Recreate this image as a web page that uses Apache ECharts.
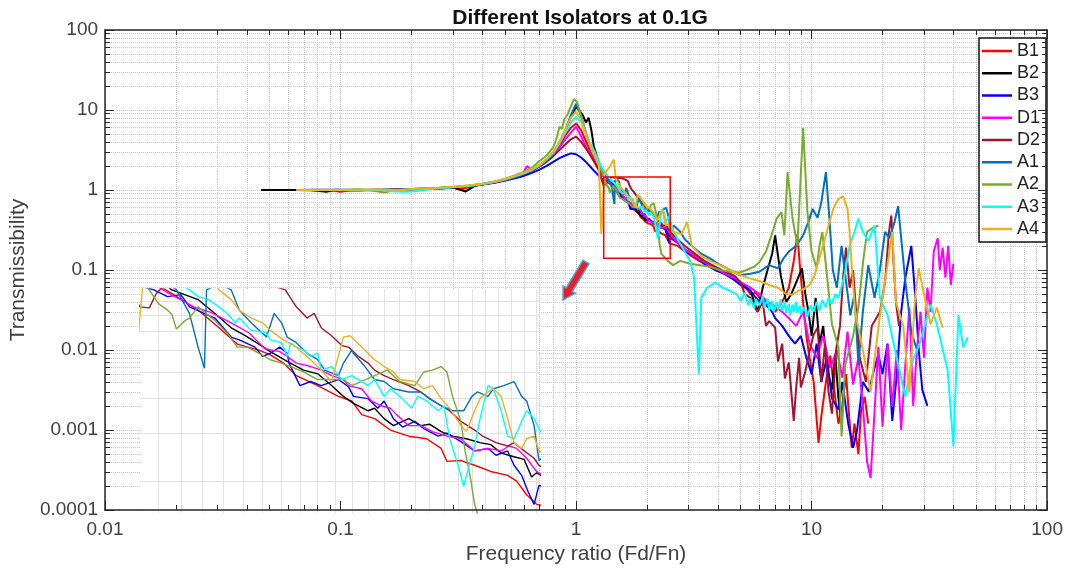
<!DOCTYPE html>
<html>
<head>
<meta charset="utf-8">
<script src="https://cdn.jsdelivr.net/npm/echarts@6/dist/echarts.min.js"></script>
<style>
html, body { margin: 0; padding: 0; background: #fff; }
#main { width: 1066px; height: 570px; }
</style>
</head>
<body>
<div id="main"></div>
<script>
// isolator names and line colours (legend order)
var names = ['B1', 'B2', 'B3', 'D1', 'D2', 'A1', 'A2', 'A3', 'A4'];
var colors = ['#ff0000', '#000000', '#0000ff', '#ff00ff', '#a2142f', '#0072bd', '#77ac30', '#00ffff', '#edb120'];

// [frequency ratio, transmissibility]
var b1 = [[0.065,1.0],[0.075,0.99],[0.09,1.0],[0.1,0.95],[0.11,0.99],[0.13,1.0],[0.16,1.01],[0.2,1.02],[0.25,1.04],[0.3,1.07],[0.33,1.03],[0.36,1.11],[0.4,1.17],[0.45,1.24],[0.5,1.32],[0.55,1.43],[0.6,1.56],[0.65,1.74],[0.7,1.97],[0.75,2.3],[0.8,2.8],[0.85,3.6],[0.9,4.8],[0.95,6.0],[1.0,6.8],[1.05,5.6],[1.1,4.1],[1.15,3.0],[1.2,2.3],[1.25,1.8],[1.3,1.5],
  [1.38,1.25],[1.44,1.09],[1.49,0.94],[1.535,0.82],[1.59,0.78],[1.62,0.75],[1.655,0.70],[1.69,0.63],[1.75,0.58],[1.81,0.53],[1.85,0.51],[1.88,0.455],[1.92,0.44],[1.97,0.40],[2.03,0.38],[2.09,0.372],[2.14,0.343],[2.16,0.308],[2.21,0.31],[2.26,0.298],[2.32,0.283],[2.385,0.274],[2.42,0.261],[2.46,0.233],[2.5,0.215],
  [2.7,0.2],[2.9,0.17],[3.2,0.14],[3.5,0.12],[3.9,0.1],[4.3,0.09],
  [4.7,0.075],[5.0,0.065],[5.3,0.058],[5.5,0.05],[5.8,0.052],[6.0,0.045],[6.3,0.04],[6.5,0.035],[6.8,0.038],[7.0,0.03],[7.5,0.04],[8.0,0.06],[8.4,0.13],[8.7,0.28],[8.9,0.12],[9.2,0.04],[9.5,0.015],[9.8,0.008],[10.2,0.004],[10.7,0.00069],[11.0,0.0015],[11.5,0.004],[12.0,0.0085],[12.5,0.003],[13.0,0.0012],[13.5,0.002],[14.0,0.005],[14.3,0.0021],[14.8,0.0006],[15.2,0.0012],[15.8,0.0005],[16.2,0.0017],[16.8,0.0026],[17.4,0.0012]];

var b2 = [[0.046,1.0],[0.055,1.0],[0.065,1.0],[0.075,1.0],[0.087,0.95],[0.095,1.01],[0.11,0.99],[0.13,1.0],[0.16,1.01],[0.2,1.02],[0.25,1.04],[0.3,1.07],[0.34,0.96],[0.37,1.12],[0.4,1.18],[0.45,1.25],[0.5,1.34],[0.55,1.45],[0.6,1.58],[0.65,1.76],[0.7,2.0],[0.75,2.35],[0.8,2.9],[0.85,3.8],[0.9,5.6],[0.95,8.2],[1.0,11],[1.03,10],[1.07,8.5],[1.1,7.0],[1.13,8.0],[1.16,5.7],[1.19,3.5],[1.25,2.2],[1.3,1.65],
  [1.38,1.29],[1.44,1.19],[1.48,1.06],[1.52,0.94],[1.555,0.88],[1.59,0.82],[1.62,0.77],[1.665,0.71],[1.71,0.66],[1.75,0.64],[1.79,0.58],[1.825,0.53],[1.855,0.50],[1.9,0.47],[1.92,0.48],[1.95,0.44],[1.98,0.415],[2.03,0.44],[2.07,0.415],[2.1,0.42],[2.14,0.395],[2.18,0.38],[2.23,0.372],[2.28,0.36],[2.32,0.354],[2.36,0.33],[2.41,0.32],[2.45,0.313],[2.48,0.27],[2.5,0.28],
  [2.7,0.22],[2.9,0.18],[3.2,0.15],[3.5,0.125],[3.9,0.105],[4.3,0.09],
  [4.7,0.08],[5.0,0.07],[5.5,0.055],[5.9,0.03],[6.2,0.06],[6.5,0.1],[6.8,0.16],[7.0,0.27],[7.2,0.15],[7.4,0.085],[7.8,0.04],[8.2,0.05],[8.6,0.07],[9.1,0.105],[9.4,0.05],[9.7,0.03],[10.0,0.015],[10.4,0.045],[10.8,0.012],[11.2,0.02],[11.6,0.006],[12.2,0.0032],[12.6,0.0088],[13.0,0.0025],[13.4,0.0012],[13.8,0.004]];

var b3 = [[0.065,1.0],[0.08,1.01],[0.1,1.0],[0.12,0.99],[0.15,1.01],[0.2,1.03],[0.25,1.05],[0.3,1.08],[0.35,1.12],[0.4,1.17],[0.45,1.23],[0.5,1.31],[0.55,1.4],[0.6,1.5],[0.65,1.64],[0.7,1.8],[0.75,2.0],[0.8,2.25],[0.85,2.5],[0.9,2.7],[0.95,2.87],[1.0,2.8],[1.05,2.55],[1.1,2.25],[1.15,1.95],[1.2,1.7],[1.25,1.5],[1.3,1.35],
  [1.34,1.29],[1.37,1.22],[1.40,1.24],[1.42,1.12],[1.48,1.02],[1.52,0.87],[1.54,0.85],[1.58,0.80],[1.60,0.74],[1.62,0.76],[1.645,0.80],[1.665,0.76],[1.67,0.70],[1.70,0.58],[1.73,0.60],[1.76,0.58],[1.81,0.61],[1.84,0.575],[1.855,0.53],[1.90,0.52],[1.93,0.48],[1.95,0.51],[1.98,0.44],[2.01,0.41],[2.05,0.43],[2.08,0.405],[2.13,0.38],[2.16,0.39],[2.21,0.363],[2.26,0.336],[2.31,0.343],[2.34,0.324],[2.385,0.336],[2.41,0.298],[2.44,0.274],[2.465,0.24],[2.49,0.215],[2.51,0.252],
  [2.7,0.22],[2.9,0.17],[3.2,0.15],[3.5,0.12],[3.9,0.1],[4.3,0.088],
  [4.7,0.075],[5.0,0.065],[5.3,0.06],[5.5,0.055],[5.8,0.045],[6.0,0.04],[6.3,0.042],[6.5,0.035],[6.8,0.03],[7.0,0.025],[7.5,0.02],[8.0,0.015],[8.5,0.012],[9.0,0.015],[9.5,0.008],[10.0,0.005],[10.5,0.012],[11.0,0.004],[11.6,0.008],[12.2,0.0025],[13.0,0.0018],[13.5,0.004],[14.3,0.0012],[15.0,0.0006],[15.6,0.001],[16.5,0.004],[17.5,0.003],[18.5,0.006],[19.2,0.0088],[20,0.005],[21,0.012],[22,0.0013],[23,0.005],[24,0.03],[25,0.08],[26.5,0.2],[27.5,0.05],[28.5,0.01],[29.5,0.0032],[31,0.002]];

var d1 = [[0.065,1.0],[0.08,1.0],[0.1,1.01],[0.12,0.99],[0.15,1.0],[0.2,1.02],[0.25,1.05],[0.3,1.08],[0.35,1.12],[0.4,1.18],[0.45,1.25],[0.5,1.34],[0.55,1.45],[0.59,1.56],[0.62,2.0],[0.65,1.72],[0.7,1.98],[0.75,2.3],[0.8,2.75],[0.85,3.4],[0.9,4.3],[0.95,5.2],[1.0,6.2],[1.05,4.7],[1.1,3.5],[1.15,2.8],[1.2,2.2],[1.25,1.8],[1.3,1.5],
  [1.37,1.26],[1.43,1.12],[1.47,1.07],[1.52,0.98],[1.565,0.90],[1.605,0.79],[1.645,0.77],[1.665,0.74],[1.69,0.70],[1.73,0.68],[1.76,0.66],[1.79,0.63],[1.825,0.61],[1.84,0.58],[1.88,0.565],[1.91,0.51],[1.94,0.49],[1.97,0.48],[1.99,0.455],[2.03,0.415],[2.07,0.415],[2.11,0.395],[2.16,0.38],[2.21,0.372],[2.26,0.336],[2.31,0.343],[2.36,0.336],[2.39,0.35],[2.42,0.343],[2.46,0.316],[2.50,0.283],
  [2.7,0.22],[2.9,0.18],[3.2,0.15],[3.5,0.125],[3.9,0.105],[4.3,0.09],
  [4.7,0.08],[5.0,0.07],[5.5,0.06],[6.0,0.05],[6.5,0.04],[7.0,0.035],[7.5,0.03],[8.0,0.025],[8.6,0.02],[9.2,0.03],[9.8,0.012],[10.5,0.008],[11.2,0.015],[12.0,0.006],[12.8,0.01],[13.5,0.0045],[14.2,0.017],[15.0,0.0037],[15.8,0.008],[16.5,0.002],[17.2,0.0004],[17.8,0.00025],[18.5,0.0017],[19.2,0.011],[20,0.0011],[21,0.0117],[22,0.002],[23,0.01],[24,0.001],[25,0.0065],[26,0.034],[27,0.002],[28,0.01],[29,0.03],[30,0.008],[31,0.06],[32,0.03],[33,0.17],[34.3,0.25],[35,0.1],[36,0.19],[37,0.08],[38,0.2],[39,0.065],[40,0.12]];

var d2 = [[0.065,1.0],[0.08,0.99],[0.1,1.0],[0.12,1.01],[0.15,1.0],[0.2,1.02],[0.25,1.04],[0.3,1.08],[0.35,1.12],[0.4,1.18],[0.45,1.25],[0.5,1.34],[0.55,1.45],[0.6,1.58],[0.65,1.75],[0.7,1.97],[0.75,2.25],[0.8,2.65],[0.85,3.15],[0.9,3.7],[0.95,4.3],[1.0,4.66],[1.05,4.0],[1.1,3.3],[1.15,2.7],[1.2,2.2],[1.25,1.75],[1.3,1.2],
  [1.31,1.12],[1.33,1.11],[1.345,1.25],[1.37,1.38],[1.42,1.45],[1.48,1.40],[1.55,1.42],[1.61,1.36],[1.66,1.29],[1.69,1.12],[1.72,1.02],[1.74,1.06],[1.76,0.94],[1.79,0.88],[1.82,0.81],[1.84,0.80],[1.87,0.74],[1.90,0.70],[1.92,0.66],[1.95,0.63],[1.98,0.61],[2.03,0.58],[2.07,0.55],[2.10,0.52],[2.14,0.49],[2.17,0.47],[2.21,0.43],[2.26,0.40],[2.29,0.38],[2.34,0.36],[2.385,0.35],[2.41,0.36],[2.45,0.336],[2.49,0.316],[2.51,0.298],
  [2.7,0.24],[2.9,0.2],[3.2,0.16],[3.5,0.13],[3.9,0.11],[4.3,0.095],
  [4.7,0.085],[5.0,0.07],[5.2,0.05],[5.5,0.045],[5.7,0.035],[5.9,0.03],[6.2,0.04],[6.4,0.02],[6.6,0.023],[7.0,0.019],[7.2,0.0072],[7.5,0.012],[7.7,0.0044],[8.0,0.007],[8.4,0.0013],[8.6,0.0034],[8.85,0.008],[9.0,0.0034],[9.4,0.0054],[9.8,0.0096],[10.2,0.0156],[10.6,0.019],[11.0,0.004],[11.4,0.012],[11.8,0.003],[12.2,0.0016],[12.7,0.01],[13.2,0.02],[13.6,0.08],[14.0,0.19],[14.5,0.06],[15.0,0.1],[15.3,0.045],[16.0,0.008],[17.0,0.004],[18.0,0.02],[19.5,0.03],[20.5,0.07],[21.3,0.3],[21.8,0.48],[22.3,0.12],[22.8,0.04],[23.5,0.02]];

var a1 = [[0.065,1.0],[0.08,1.0],[0.1,1.0],[0.12,1.0],[0.15,1.01],[0.2,1.02],[0.25,1.05],[0.3,1.08],[0.35,1.12],[0.4,1.18],[0.45,1.26],[0.5,1.35],[0.55,1.47],[0.6,1.6],[0.65,1.78],[0.7,2.02],[0.75,2.4],[0.8,2.95],[0.85,3.9],[0.9,5.6],[0.95,8.6],[1.0,12],[1.05,8.5],[1.1,5.2],[1.15,3.6],[1.2,2.8],[1.25,2.1],[1.3,1.7],[1.35,1.45],
  [1.39,1.29],[1.42,1.06],[1.44,0.80],[1.455,0.67],[1.46,1.29],[1.49,1.36],[1.52,1.29],[1.54,1.09],[1.57,0.98],[1.61,0.87],[1.63,1.06],[1.65,0.98],[1.665,0.87],[1.69,0.83],[1.72,0.76],[1.75,0.72],[1.77,0.66],[1.81,0.63],[1.825,0.70],[1.85,0.78],[1.855,0.76],[1.89,0.68],[1.92,0.61],[1.95,0.60],[1.98,0.565],[2.03,0.55],[2.07,0.55],[2.10,0.52],[2.14,0.49],[2.18,0.47],[2.22,0.47],[2.25,0.53],[2.27,0.55],[2.31,0.53],[2.33,0.565],[2.37,0.58],[2.41,0.60],[2.44,0.53],[2.46,0.51],[2.49,0.415],[2.51,0.31],
  [2.6,0.36],[2.77,0.3],[2.9,0.24],[3.1,0.2],[3.4,0.16],[3.7,0.14],[4.0,0.12],[4.5,0.1],
  [4.95,0.086],[5.5,0.09],[6.0,0.095],[6.6,0.115],[7.2,0.105],[7.6,0.14],[8.0,0.17],[8.6,0.2],[9.2,0.27],[9.7,0.4],[10.1,0.58],[10.6,0.45],[11.0,0.71],[11.5,1.67],[11.9,0.44],[12.3,0.1],[12.8,0.06],[13.4,0.2],[14.0,0.072],[14.6,0.027],[15.2,0.05],[15.8,0.0066],[16.5,0.03],[17.4,0.115],[18.5,0.045],[19.5,0.1],[20.5,0.3],[21.4,0.25],[22.5,0.4],[23.3,0.63],[24.0,0.25],[25.0,0.072],[26.5,0.017],[28,0.01]];

var a2 = [[0.065,1.0],[0.08,1.01],[0.1,1.0],[0.12,1.02],[0.14,0.97],[0.154,0.93],[0.17,1.0],[0.2,1.03],[0.25,1.05],[0.3,1.09],[0.35,1.14],[0.4,1.2],[0.45,1.28],[0.5,1.38],[0.55,1.52],[0.6,1.68],[0.65,1.9],[0.7,2.3],[0.75,2.7],[0.8,3.4],[0.83,4.6],[0.85,6.2],[0.87,5.8],[0.89,7.6],[0.92,8.8],[0.95,11],[0.98,13.7],[1.01,12.5],[1.05,8.5],[1.1,5.2],[1.15,3.6],[1.2,2.8],[1.25,2.1],[1.3,1.6],
  [1.33,1.29],[1.35,1.15],[1.37,1.09],[1.38,1.05],[1.39,0.93],[1.41,1.0],[1.42,1.02],[1.44,1.12],[1.48,1.0],[1.51,0.90],[1.535,0.80],[1.56,0.80],[1.59,0.76],[1.62,0.72],[1.65,0.70],[1.675,0.68],[1.71,0.65],[1.75,0.61],[1.79,0.61],[1.825,0.61],[1.85,0.58],[1.92,0.63],[1.96,0.66],[2.0,0.60],[2.05,0.58],[2.08,0.65],[2.11,0.66],[2.14,0.68],[2.16,0.65],[2.18,0.53],[2.21,0.43],[2.225,0.336],[2.245,0.267],[2.26,0.215],[2.3,0.16],
  [2.45,0.13],[2.58,0.115],[2.77,0.13],[3.05,0.12],[3.36,0.115],[3.7,0.11],[4.08,0.1],[4.5,0.095],
  [4.95,0.093],[5.3,0.1],[5.7,0.11],[6.0,0.125],[6.4,0.17],[6.9,0.33],[7.1,0.44],[7.45,0.53],[7.66,0.27],[7.9,1.67],[8.3,0.44],[8.7,0.2],[9.2,6.0],[9.6,0.53],[10.0,0.17],[10.5,0.105],[10.8,0.2],[11.1,0.3],[11.5,0.115],[12.2,0.021],[13.0,0.0108],[13.4,0.00083],[13.9,0.0066],[15.0,0.015],[15.8,0.034],[16.6,0.14],[17.2,0.3],[18.0,0.33],[19.2,0.36]];

var a3 = [[0.065,1.0],[0.08,1.0],[0.1,1.01],[0.12,1.0],[0.15,1.0],[0.17,0.96],[0.19,0.95],[0.21,0.97],[0.25,1.04],[0.3,1.08],[0.35,1.12],[0.4,1.18],[0.45,1.26],[0.5,1.35],[0.55,1.47],[0.6,1.6],[0.65,1.78],[0.7,2.02],[0.75,2.4],[0.8,2.9],[0.85,3.8],[0.9,5.2],[0.95,7.0],[1.0,8.2],[1.05,7.0],[1.1,5.0],[1.15,3.8],[1.2,3.0],[1.25,2.3],[1.3,1.8],[1.36,1.5],
  [1.42,1.29],[1.44,1.22],[1.465,1.19],[1.49,1.12],[1.51,1.06],[1.53,0.98],[1.54,1.02],[1.57,0.92],[1.61,0.90],[1.62,0.85],[1.65,0.83],[1.655,0.80],[1.665,0.74],[1.675,0.83],[1.69,0.80],[1.71,0.78],[1.73,0.74],[1.75,0.76],[1.76,0.66],[1.79,0.68],[1.82,0.61],[1.85,0.63],[1.87,0.61],[1.90,0.58],[1.92,0.61],[1.95,0.53],[1.97,0.565],[2.0,0.53],[2.04,0.48],[2.06,0.53],[2.09,0.51],[2.13,0.47],[2.15,0.49],[2.17,0.372],[2.20,0.298],[2.22,0.25],[2.23,0.274],[2.26,0.35],[2.28,0.44],[2.31,0.58],[2.33,0.565],[2.36,0.47],[2.385,0.38],[2.41,0.372],[2.44,0.43],[2.46,0.47],[2.49,0.44],[2.51,0.405],
  [2.6,0.3],[2.8,0.2],[3.05,0.13],[3.17,0.08],[3.32,0.005],[3.4,0.045],[3.6,0.06],[3.9,0.07],[4.2,0.06],[4.5,0.055],
  [4.8,0.05],[5.0,0.041],[5.2,0.052],[5.4,0.036],[5.5,0.044],[5.7,0.033],[5.8,0.043],[6.0,0.036],[6.2,0.047],[6.3,0.034],[6.5,0.044],[6.6,0.031],[6.8,0.041],[6.9,0.03],[7.1,0.04],[7.2,0.032],[7.4,0.043],[7.5,0.031],[7.7,0.04],[7.8,0.029],[8.0,0.038],[8.1,0.027],[8.3,0.037],[8.4,0.03],[8.6,0.04],[8.7,0.029],[8.9,0.036],[9.0,0.028],[9.3,0.034],[9.6,0.026],[9.9,0.036],[10.2,0.03],[10.5,0.04],[10.8,0.031],[11.1,0.042],[11.5,0.034],[11.8,0.045],[12.2,0.038],[12.6,0.05],[13.0,0.045],[13.8,0.086],[14.5,0.2],[15.2,0.3],[15.8,0.44],[16.5,0.3],[17.4,0.23],[18.5,0.36],[19.5,0.045],[21.0,0.0275],[23.3,0.0066],[25.0,0.0026],[26.5,0.0066],[29.0,0.013],[32,0.037],[34,0.021],[37.8,0.0056],[40,0.00063],[42,0.0276],[44,0.0108],[46,0.0144]];

var a4 = [[0.065,1.0],[0.08,1.0],[0.1,1.0],[0.12,1.01],[0.15,1.02],[0.18,0.99],[0.2,1.03],[0.25,1.06],[0.3,1.1],[0.35,1.14],[0.4,1.2],[0.45,1.28],[0.5,1.37],[0.55,1.5],[0.6,1.64],[0.65,1.83],[0.7,2.07],[0.75,2.45],[0.8,3.0],[0.85,4.0],[0.9,5.8],[0.95,8.0],[1.0,9.5],[1.05,7.5],[1.1,5.0],[1.15,3.5],[1.2,2.7],[1.25,2.0],[1.28,0.28],[1.32,1.6],[1.38,1.9],[1.446,2.4],[1.47,1.5],
  [1.49,1.29],[1.52,1.19],[1.54,1.09],[1.57,1.02],[1.60,0.98],[1.62,0.92],[1.655,0.85],[1.69,0.80],[1.73,0.72],[1.76,0.66],[1.79,0.60],[1.825,0.87],[1.845,0.88],[1.88,0.80],[1.92,0.72],[1.95,0.68],[1.98,0.65],[2.0,0.61],[2.05,0.60],[2.08,0.565],[2.11,0.58],[2.14,0.52],[2.17,0.48],[2.21,0.415],[2.23,0.395],[2.26,0.47],[2.28,0.52],[2.31,0.55],[2.33,0.565],[2.36,0.53],[2.385,0.44],[2.41,0.36],[2.44,0.343],[2.46,0.372],[2.49,0.38],[2.51,0.336],
  [2.6,0.3],[2.8,0.28],[2.96,0.4],[3.1,0.2],[3.4,0.15],[3.7,0.13],[4.08,0.115],[4.5,0.1],
  [5.0,0.086],[5.5,0.078],[6.0,0.073],[6.6,0.065],[7.2,0.06],[7.8,0.05],[8.3,0.049],[8.8,0.055],[9.3,0.058],[9.8,0.065],[10.3,0.086],[11.0,0.17],[11.8,0.36],[12.4,0.6],[13.0,0.77],[13.6,0.84],[14.2,0.58],[14.5,0.3],[14.8,0.115],[15.3,0.03],[16.5,0.01],[17.8,0.003],[19.5,0.027],[21.0,0.115],[22.0,0.3],[22.8,0.04],[24.5,0.02],[26.0,0.003],[27.5,0.045],[28.5,0.105],[30,0.05],[32,0.021],[34,0.034],[36,0.019]];

var seriesData = [b1, b2, b3, d1, d2, a1, a2, a3, a4];

// axis decades (tick labels) and the zoomed window
var xDecades = [0.01, 0.1, 1, 10, 100];
var yDecades = [0.0001, 0.001, 0.01, 0.1, 1, 10, 100];
var zoomX = [1.31, 2.51];
var zoomY = [0.14, 1.45];
var insetX = [1.31, 2.51];
var insetY = [0.2, 1.3];

function minorSteps(dec) {
  var out = [];
  for (var i = 0; i < dec.length - 1; i++)
    for (var k = 1; k <= 9; k++) out.push(+(dec[i] * k).toPrecision(2));
  out.push(dec[dec.length - 1]);
  return out;
}
var xMinor = minorSteps(xDecades);
var yMinor = minorSteps(yDecades);
var insetGridX = [];
for (var v = 1.35; v <= 2.5001; v += 0.05) insetGridX.push(+v.toFixed(2));
var insetGridY = [0.26, 0.39, 0.52, 0.65, 0.78, 0.91, 1.04, 1.17];

var FONT = "'Liberation Sans', Arial, sans-serif";
var AX = '#262626';
function fmt(v) { return String(+(+v).toPrecision(2)); }

function frameAxis(pos, range, o) {
  return Object.assign({
    gridIndex: 0, type: 'log', logBase: 10, min: range[0], max: range[range.length - 1],
    position: pos, z: 6, splitNumber: range.length - 1,
    axisLine: { show: true, onZero: false, lineStyle: { color: AX, width: 1.5 } },
    axisTick: { show: true, inside: true, length: 5, lineStyle: { color: AX, width: 1 } },
    axisLabel: { show: false },
    splitLine: { show: false }
  }, o);
}

var chart = echarts.init(document.getElementById('main'), null, { renderer: 'canvas' });

var xAxes = [
  frameAxis('bottom', xDecades, {
    axisTick: { show: true, inside: true, length: 5, customValues: xMinor, lineStyle: { color: AX } },
    axisLabel: { show: true, formatter: fmt, color: '#404040', fontSize: 19, margin: 10, fontFamily: FONT },
    name: 'Frequency ratio (Fd/Fn)', nameLocation: 'middle', nameGap: 34,
    nameTextStyle: { fontSize: 21, color: '#404040', fontFamily: FONT }
  }),
  frameAxis('top', xDecades, {
    axisTick: { show: true, inside: true, length: 5, customValues: xMinor, lineStyle: { color: AX } }
  }),
  frameAxis('bottom', xDecades, { axisLine: { show: false, onZero: false }, axisTick: { show: true, inside: true, length: 9, lineStyle: { color: AX } } }),
  frameAxis('top', xDecades, { axisLine: { show: false, onZero: false }, axisTick: { show: true, inside: true, length: 9, lineStyle: { color: AX } } }),
  frameAxis('bottom', xDecades, {
    z: 0, axisLine: { show: false, onZero: false },
    axisTick: { show: false, customValues: xMinor },
    splitLine: { show: true, lineStyle: { type: 'dotted', color: '#cacaca', width: 1 } }
  }),
  { gridIndex: 1, type: 'log', min: insetX[0], max: insetX[1], z: 4,
    axisLine: { show: false }, axisLabel: { show: false },
    axisTick: { show: false, customValues: insetGridX },
    splitLine: { show: true, lineStyle: { color: '#e2e2e2', width: 1 } } }
];

var yAxes = [
  frameAxis('left', yDecades, {
    axisTick: { show: true, inside: true, length: 5, customValues: yMinor, lineStyle: { color: AX } },
    axisLabel: { show: true, formatter: fmt, color: '#404040', fontSize: 19, margin: 7, fontFamily: FONT },
    name: 'Transmissibility', nameLocation: 'middle', nameGap: 68,
    nameTextStyle: { fontSize: 21, color: '#404040', fontFamily: FONT }
  }),
  frameAxis('right', yDecades, {
    axisTick: { show: true, inside: true, length: 5, customValues: yMinor, lineStyle: { color: AX } }
  }),
  frameAxis('left', yDecades, { axisLine: { show: false, onZero: false }, axisTick: { show: true, inside: true, length: 9, lineStyle: { color: AX } } }),
  frameAxis('right', yDecades, { axisLine: { show: false, onZero: false }, axisTick: { show: true, inside: true, length: 9, lineStyle: { color: AX } } }),
  frameAxis('left', yDecades, {
    z: 0, axisLine: { show: false, onZero: false },
    axisTick: { show: false, customValues: yMinor },
    splitLine: { show: true, lineStyle: { type: 'dotted', color: '#cacaca', width: 1 } }
  }),
  { gridIndex: 1, type: 'log', min: insetY[0], max: insetY[1], z: 4,
    axisLine: { show: false }, axisLabel: { show: false },
    axisTick: { show: false, customValues: insetGridY },
    splitLine: { show: true, lineStyle: { color: '#e2e2e2', width: 1 } } }
];

var series = [];
names.forEach(function (n, i) {
  var s = {
    name: n, type: 'line', data: seriesData[i],
    xAxisIndex: 0, yAxisIndex: 0, symbol: 'none', clip: true, z: 2,
    lineStyle: { color: colors[i], width: 2 }, itemStyle: { color: colors[i] }
  };
  if (i === 0) {
    // red frame around the zoomed window
    s.markArea = {
      silent: true, z: 4,
      itemStyle: { color: 'rgba(0,0,0,0)', borderColor: '#ff0000', borderWidth: 1.5 },
      data: [[{ coord: [zoomX[0], zoomY[1]] }, { coord: [zoomX[1], zoomY[0]] }]]
    };
  }
  series.push(s);
});
// the same curves, magnified in the inset
names.forEach(function (n, i) {
  series.push({
    name: n, type: 'line', data: seriesData[i],
    xAxisIndex: 5, yAxisIndex: 5, symbol: 'none', clip: true, z: 5,
    lineStyle: { color: colors[i], width: 1.4 }, itemStyle: { color: colors[i] }
  });
});

var option = {
  animation: false,
  backgroundColor: '#fff',
  title: {
    text: 'Different Isolators at 0.1G',
    left: 575, textAlign: 'center', top: 3,
    textStyle: { fontSize: 21, fontWeight: 'bold', color: '#111', fontFamily: FONT }
  },
  legend: {
    data: names, orient: 'vertical', left: 979, top: 38,
    icon: 'rect', itemWidth: 30, itemHeight: 2.5, itemGap: 4.25,
    padding: [4, 6, 4, 3],
    backgroundColor: '#fff', borderColor: '#111', borderWidth: 1.5,
    textStyle: { fontSize: 18, lineHeight: 18, color: '#222', fontFamily: FONT }
  },
  grid: [
    { left: 100, right: 16, top: 30, bottom: 57, show: false },
    { left: 140, top: 289, width: 399, height: 224, show: true, backgroundColor: '#fff', borderWidth: 0, z: 3 }
  ],
  xAxis: xAxes,
  yAxis: yAxes,
  series: series,
  graphic: [{
    // pointer from the red frame to the inset
    type: 'polygon', z: 10, silent: true,
    shape: { points: [[589.0,263.8],[572.2,291.5],[575.2,293.3],[563,300],[563.2,286.1],[566.2,287.9],[583.0,260.2]] },
    style: { fill: '#ee1c24', stroke: '#3fa6e0', lineWidth: 1.5 }
  }]
};

chart.setOption(option);
window.onresize = chart.resize;
</script>
</body>
</html>
